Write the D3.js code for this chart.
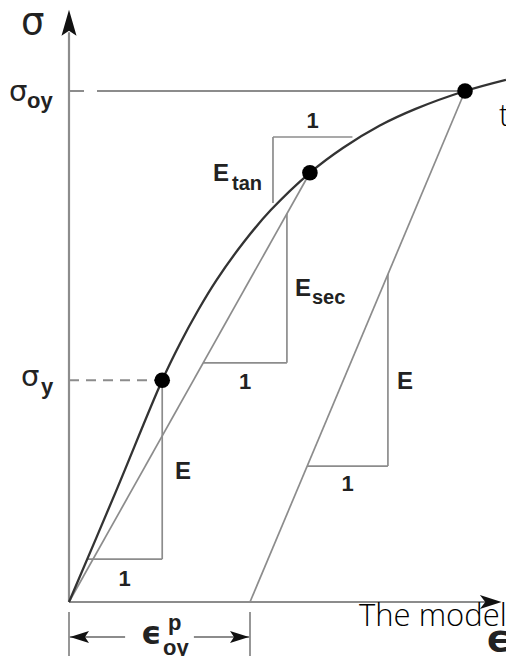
<!DOCTYPE html>
<html><head><meta charset="utf-8">
<script src="https://cdn.jsdelivr.net/npm/d3@7"></script>
<style>
html,body{margin:0;padding:0;background:#fff;overflow:hidden}
svg{display:block}
</style></head>
<body>
<script>
// ---- data (strain normalised by plastic offset strain, stress by sigma_oy) ----
const curveStrain = [0, 0.26, 0.515, 0.615, 0.715, 0.815, 0.965, 1.115, 1.331, 1.515, 1.715, 1.915, 2.188, 2.414];
const curveStress = [0, 0.217, 0.434, 0.507, 0.572, 0.630, 0.704, 0.767, 0.840, 0.889, 0.932, 0.965, 1.000, 1.022];
const markerNames = ["sigmaY", "tangent", "sigmaOY"];
const markerStrain = [0.515, 1.331, 2.188];
const markerStress = [0.434, 0.840, 1.000];
const plasticStrain = 1.0;
// triangles: [x of vertical leg, sigma low, sigma high, x of horizontal start, x of horizontal end, sigma of horizontal]
const triElastic = [0.515, 0.084, 0.434, 0.100, 0.515, 0.084];
const triSecant  = [1.204, 0.468, 0.760, 0.742, 1.204, 0.468];
const triTangent = [1.127, 0.781, 0.910, 1.127, 1.566, 0.910];
const triUnload  = [1.762, 0.266, 0.642, 1.316, 1.762, 0.266];

const W = 506, H = 656;
const svg = d3.select("body").append("svg").attr("width", W).attr("height", H);
const x = d3.scaleLinear().domain([0, 1]).range([69, 250]);
const y = d3.scaleLinear().domain([0, 1]).range([602, 91]);

const gray = "#8c8c8c", dark = "#222";
const labelFont = "'Liberation Sans', Arial, sans-serif";

// axes
svg.append("line").attr("x1", x(0)).attr("y1", y(0)).attr("x2", x(0)).attr("y2", y(1.115))
  .attr("stroke", gray).attr("stroke-width", 2.2);
svg.append("path").attr("d", `M${x(0)},${y(1.159)} L${x(0)+7.5},${y(1.108)} L${x(0)},${y(1.118)} L${x(0)-7.5},${y(1.108)} Z`).attr("fill", "#111");
svg.append("line").attr("x1", x(0)).attr("y1", y(0)).attr("x2", x(2.32)).attr("y2", y(0))
  .attr("stroke", gray).attr("stroke-width", 2.2);
svg.append("path").attr("d", `M${x(2.39)},${y(0)} L${x(2.27)},${y(0)-7} L${x(2.30)},${y(0)} L${x(2.27)},${y(0)+7} Z`).attr("fill", "#111");

// sigma_oy reference line (short dash then solid)
svg.append("line").attr("x1", x(0)).attr("y1", y(1)).attr("x2", x(markerStrain[2])).attr("y2", y(1))
  .attr("stroke", gray).attr("stroke-width", 1.8).attr("stroke-dasharray", "15,13,2000");
// sigma_y dashed line
svg.append("line").attr("x1", x(0)).attr("y1", y(markerStress[0])).attr("x2", x(markerStrain[0])).attr("y2", y(markerStress[0]))
  .attr("stroke", gray).attr("stroke-width", 1.8).attr("stroke-dasharray", "10,7");

// secant line
svg.append("line").attr("x1", x(0)).attr("y1", y(0)).attr("x2", x(markerStrain[1])).attr("y2", y(markerStress[1]))
  .attr("stroke", gray).attr("stroke-width", 1.7);
// unloading line
svg.append("line").attr("x1", x(plasticStrain)).attr("y1", y(0)).attr("x2", x(markerStrain[2])).attr("y2", y(markerStress[2]))
  .attr("stroke", gray).attr("stroke-width", 1.7);

// triangles
[triElastic, triSecant, triTangent, triUnload].forEach(t => {
  svg.append("line").attr("x1", x(t[0])).attr("y1", y(t[1])).attr("x2", x(t[0])).attr("y2", y(t[2]))
    .attr("stroke", gray).attr("stroke-width", 1.7);
  svg.append("line").attr("x1", x(t[3])).attr("y1", y(t[5])).attr("x2", x(t[4])).attr("y2", y(t[5]))
    .attr("stroke", gray).attr("stroke-width", 1.7);
});

// stress-strain curve
const pts = curveStrain.map((e, i) => [e, curveStress[i]]);
svg.append("path").attr("d", d3.line().x(d => x(d[0])).y(d => y(d[1])).curve(d3.curveCatmullRom.alpha(0.5))(pts))
  .attr("fill", "none").attr("stroke", "#333").attr("stroke-width", 2.3);

// markers
svg.selectAll("circle.m").data(markerStrain).enter().append("circle")
  .attr("cx", d => x(d)).attr("cy", (d, i) => y(markerStress[i])).attr("r", 7.8).attr("fill", "#000");

// dimension for plastic strain
[0, plasticStrain].forEach(e => {
  svg.append("line").attr("x1", x(e)).attr("y1", 612).attr("x2", x(e)).attr("y2", 660)
    .attr("stroke", gray).attr("stroke-width", 1.8);
});
svg.append("line").attr("x1", x(0)).attr("y1", 637).attr("x2", x(0.31)).attr("y2", 637).attr("stroke", gray).attr("stroke-width", 1.8);
svg.append("line").attr("x1", x(0.69)).attr("y1", 637).attr("x2", x(plasticStrain)).attr("y2", 637).attr("stroke", gray).attr("stroke-width", 1.8);
svg.append("path").attr("d", `M${x(0)+1},637 L${x(0)+20},631 L${x(0)+16},637 L${x(0)+20},643 Z`).attr("fill", "#111");
svg.append("path").attr("d", `M${x(plasticStrain)-1},637 L${x(plasticStrain)-20},631 L${x(plasticStrain)-16},637 L${x(plasticStrain)-20},643 Z`).attr("fill", "#111");

function txt(s, px, py, size, weight, anchor, fam) {
  return svg.append("text").attr("x", px).attr("y", py).text(s)
    .attr("font-family", fam || labelFont).attr("font-size", size).attr("font-weight", weight || "bold")
    .attr("fill", dark).attr("text-anchor", anchor || "start");
}

// axis labels
txt("σ", 21, 34, 37, "normal", "start", "'DejaVu Sans', sans-serif");
txt("σ", 9, 101, 29, "normal", "start", "'DejaVu Sans', sans-serif");
txt("oy", 27, 108, 22, "bold");
txt("σ", 21, 386, 29, "normal", "start", "'DejaVu Sans', sans-serif");
txt("y", 41, 394, 22, "bold");

// epsilon_oy^p
txt("ϵ", 141, 644, 32, "bold", "start", "'DejaVu Sans', sans-serif");
txt("p", 168, 630, 22, "bold");
txt("oy", 163, 655, 22, "bold");
// x axis label (partly hidden)
txt("ϵ", 486, 651, 38, "bold", "start", "'DejaVu Sans', sans-serif");

// modulus labels
txt("E", 213, 181, 24);
txt("tan", 232, 190, 20);
txt("1", x((triTangent[3] + triTangent[4]) / 2), 128, 22, "bold", "middle");
txt("E", 295, 296, 24);
txt("sec", 312, 304, 20);
txt("1", x((triSecant[3] + triSecant[4]) / 2), 389, 22, "bold", "middle");
txt("E", 175, 479, 24);
txt("1", x((triElastic[3] + triElastic[4]) / 2), 586, 22, "bold", "middle");
txt("E", 397, 389, 24);
txt("1", x((triUnload[3] + triUnload[4]) / 2), 491, 22, "bold", "middle");

// overlapping page text
svg.append("text").attr("x", 359).attr("y", 626).text("The model")
  .attr("font-family", "'Open Sans', sans-serif").attr("font-weight", 300).attr("font-size", 31).attr("fill", "#000");
svg.append("text").attr("x", 499).attr("y", 126).text("the")
  .attr("font-family", "'Open Sans', sans-serif").attr("font-weight", 300).attr("font-size", 31).attr("fill", "#000");
</script>
</body></html>
